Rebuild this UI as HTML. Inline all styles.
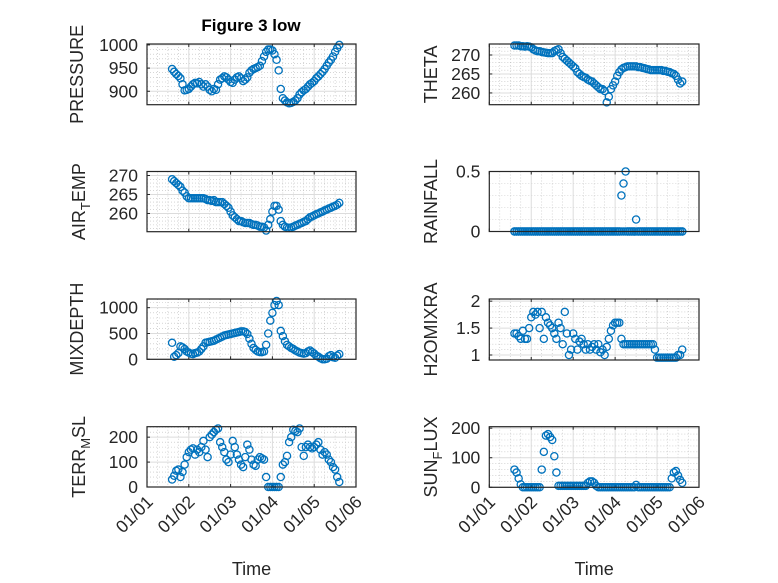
<!DOCTYPE html>
<html><head><meta charset="utf-8"><style>
html,body{margin:0;padding:0;background:#fff;}
svg{display:block;font-family:"Liberation Sans","DejaVu Sans",sans-serif;}
</style></head><body>
<svg id="fig" width="778" height="583" viewBox="0 0 778 583" xmlns="http://www.w3.org/2000/svg">
<rect width="778" height="583" fill="#fff"/>
<text x="251" y="31" text-anchor="middle" font-size="17" font-weight="bold" fill="#000">Figure 3 low</text>
</svg>
<script>
const times = [0.60,0.65,0.70,0.75,0.80,0.85,0.90,0.95,1.00,1.05,1.10,1.15,1.20,1.25,1.30,1.35,1.40,1.45,1.50,1.55,1.60,1.65,1.70,1.75,1.80,1.85,1.90,1.95,2.00,2.05,2.10,2.15,2.20,2.25,2.30,2.35,2.40,2.45,2.50,2.55,2.60,2.65,2.70,2.75,2.80,2.85,2.90,2.95,3.00,3.05,3.10,3.15,3.20,3.25,3.30,3.35,3.40,3.45,3.50,3.55,3.60,3.65,3.70,3.75,3.80,3.85,3.90,3.95,4.00,4.05,4.10,4.15,4.20,4.25,4.30,4.35,4.40,4.45,4.50,4.55,4.60];
const xTickLabels = ["01/01","01/02","01/03","01/04","01/05","01/06"];
const pressure = [948,942,937,933,928,915,902,903,905,910,915,918,917,920,915,910,915,910,903,900,905,903,915,925,928,932,930,925,920,918,925,930,932,928,922,925,930,940,945,948,950,952,955,965,975,985,990,990,988,980,968,945,905,885,880,876,874,875,877,880,885,893,898,902,905,910,915,918,922,928,932,937,942,948,955,962,968,975,985,993,1000];
const airTemp = [269,268.5,268,267.5,267,266,265.5,264.5,264,264,264,264,264,264,264,264,263.8,263.5,263.5,263.3,263.5,263,263,263,263,262.5,262,261.5,260.5,259.5,259,258.5,258,258,257.7,257.5,257.5,257.5,257.2,257,257,256.8,256.5,256.5,256.3,255.5,257,258.5,260.5,262,262,261,258,257,256.5,256.3,256.2,256.3,256.5,256.8,257,257.3,257.5,257.8,258,258.5,259,259.2,259.5,259.8,260,260.3,260.5,260.8,261,261.3,261.5,261.8,262,262.3,262.8];
const mixDepth = [320,50,80,120,250,230,200,150,130,110,100,120,130,150,200,250,320,330,340,350,360,380,400,420,440,460,470,480,490,500,510,520,530,540,540,530,490,400,300,220,180,150,140,140,150,280,500,750,900,1050,1130,1050,550,450,350,280,250,220,200,170,150,130,120,110,120,150,170,140,110,70,50,20,0,0,10,60,80,40,30,70,100];
const terrMsl = [30,45,65,70,40,60,90,120,140,150,155,130,150,140,160,185,150,120,200,210,220,230,235,180,160,140,110,100,130,185,160,130,110,90,80,120,170,150,110,90,85,110,120,115,110,40,0,0,0,0,0,0,40,90,100,125,180,200,230,225,220,235,160,125,160,170,160,155,160,170,180,150,130,140,130,110,100,80,70,40,20];
const theta = [272.5,272.5,272.5,272.3,272.3,272.2,272.3,272.2,272,271.5,271.2,271,271,270.8,270.7,270.6,270.5,270.5,270.5,271,271.3,271.5,270.5,269.5,269,268.5,268,267.5,267,266.5,265.5,265,264.5,264.2,264,263.5,263.2,263,262.5,262,261.5,261,261,260.5,257.5,259,261,262,263,264.5,265.5,266.2,266.6,266.8,267,267,267,267,267,266.8,266.8,266.6,266.5,266.3,266.2,266,266,266,266,266,266,265.8,265.8,265.6,265.5,265.2,265,264.5,263.5,262.5,263];
const rainfall = [0,0,0,0,0,0,0,0,0,0,0,0,0,0,0,0,0,0,0,0,0,0,0,0,0,0,0,0,0,0,0,0,0,0,0,0,0,0,0,0,0,0,0,0,0,0,0,0,0,0,0,0.3,0.4,0.5,0,0,0,0,0.1,0,0,0,0,0,0,0,0,0,0,0,0,0,0,0,0,0,0,0,0,0,0];
const rainZeros = [0,0,0,0,0,0,0,0,0,0,0,0,0,0,0,0,0,0,0,0,0,0,0,0,0,0,0,0,0,0,0,0,0,0,0,0,0,0,0,0,0,0,0,0,0,0,0,0,0,0,0,0,0,0,0,0,0,0,0,0,0,0,0,0,0,0,0,0,0,0,0,0,0,0,0,0,0,0,0,0,0];
const h2oMix = [1.4,1.4,1.35,1.3,1.45,1.3,1.3,1.5,1.7,1.8,1.75,1.8,1.5,1.8,1.3,1.7,1.6,1.55,1.5,1.4,1.3,1.6,1.5,1.2,1.8,1.4,1.0,1.1,1.4,1.3,1.1,1.25,1.3,1.2,1.1,1.2,1.1,1.15,1.2,1.1,1.2,1.05,1.1,1.0,1.15,1.3,1.45,1.55,1.6,1.6,1.6,1.3,1.2,1.2,1.2,1.2,1.2,1.2,1.2,1.2,1.2,1.2,1.2,1.2,1.2,1.2,1.2,1.1,0.95,0.95,0.95,0.95,0.95,0.95,0.95,0.95,0.95,0.95,1.0,1.0,1.1];
const sunFlux = [60,50,30,10,0,0,0,0,0,0,0,0,0,60,120,175,180,170,160,105,50,5,5,5,5,5,5,5,5,5,5,5,5,5,5,15,20,20,15,5,0,0,0,0,0,0,0,0,0,0,0,0,0,0,0,0,0,0,8,0,0,0,0,0,0,0,0,0,0,0,0,0,0,0,0,30,50,55,40,25,15];

const NS='http://www.w3.org/2000/svg';
const svg=document.getElementById('fig');
function el(tag,attrs,parent){const e=document.createElementNS(NS,tag);for(const k in attrs)e.setAttribute(k,attrs[k]);(parent||svg).appendChild(e);return e;}

const panels=[
 {name:'pressure',label:['PRESSURE'],data:pressure,x0:147,x1:356,y0:44,y1:104.7,ymin:871,ymax:1002,ticks:[900,950,1000],minor:10,labels:['900','950','1000'],lx:83,xlabels:false},
 {name:'theta',label:['THETA'],data:theta,x0:489.3,x1:699,y0:44,y1:104.7,ymin:256.9,ymax:272.9,ticks:[260,265,270],minor:1,labels:['260','265','270'],lx:437,xlabels:false},
 {name:'air-temp',label:['AIR','T','EMP'],data:airTemp,x0:147,x1:356,y0:171.5,y1:231.7,ymin:255.2,ymax:271.05,ticks:[260,265,270],minor:1,labels:['260','265','270'],lx:85,xlabels:false},
 {name:'rainfall',label:['RAINFALL'],data:rainfall,extra:rainZeros,x0:489.3,x1:699,y0:171.5,y1:231.5,ymin:0,ymax:0.5,ticks:[0,0.5],minor:0.1,labels:['0','0.5'],lx:437,xlabels:false},
 {name:'mixdepth',label:['MIXDEPTH'],data:mixDepth,x0:147,x1:356,y0:299,y1:359.3,ymin:0,ymax:1168,ticks:[0,500,1000],minor:100,labels:['0','500','1000'],lx:83,xlabels:false},
 {name:'h2omixra',label:['H2OMIXRA'],data:h2oMix,x0:489.3,x1:699,y0:299,y1:360,ymin:0.907,ymax:2.04,ticks:[1,1.5,2],minor:0.1,labels:['1','1.5','2'],lx:437,xlabels:false},
 {name:'terr-msl',label:['TERR','M','SL'],data:terrMsl,x0:147,x1:356,y0:426.7,y1:487,ymin:0,ymax:242,ticks:[0,100,200],minor:20,labels:['0','100','200'],lx:85,xlabels:true},
 {name:'sun-flux',label:['SUN','F','LUX'],data:sunFlux,x0:489.3,x1:699,y0:426.7,y1:487.3,ymin:0,ymax:205,ticks:[0,100,200],minor:20,labels:['0','100','200'],lx:437,xlabels:true}
];

panels.forEach(p=>{
 const g=el('g',{});
 
 
 const sx=t=>p.x0+(t/5)*(p.x1-p.x0);
 const sy=v=>p.y1-(v-p.ymin)/(p.ymax-p.ymin)*(p.y1-p.y0);
 for(let d=0.25;d<5;d+=0.25){ if(Math.abs(d-Math.round(d))<1e-6)continue;
  const gl=el('line',{x1:sx(d),x2:sx(d),y1:p.y0,y2:p.y1,stroke:'#bdbdbd','stroke-width':0.6,'stroke-dasharray':'1,2'},g);
  
  }
 const start=Math.ceil(p.ymin/p.minor)*p.minor;
 for(let v=start;v<=p.ymax+1e-9;v+=p.minor){
  if(p.ticks.some(t=>Math.abs(t-v)<1e-6))continue;
  const gl=el('line',{x1:p.x0,x2:p.x1,y1:sy(v),y2:sy(v),stroke:'#bdbdbd','stroke-width':0.6,'stroke-dasharray':'1,2'},g);
  
  }
 for(let d=1;d<5;d++){
  const gl=el('line',{x1:sx(d),x2:sx(d),y1:p.y0,y2:p.y1,stroke:'#dcdcdc','stroke-width':1},g);
  
  }
 p.ticks.forEach((v,i)=>{
  const gl=el('line',{x1:p.x0,x2:p.x1,y1:sy(v),y2:sy(v),stroke:'#dcdcdc','stroke-width':1},g);
  
  
  const tk=el('line',{x1:p.x0,x2:p.x0+3,y1:sy(v),y2:sy(v),stroke:'#262626','stroke-width':1},g);
  
  
  const tl=el('text',{x:p.x0-9,y:sy(v)+6,'text-anchor':'end','font-size':17.5,fill:'#262626'},g);
  tl.textContent=p.labels[i];
  
  
 });
 for(let d=0;d<=5;d++){
  const tk=el('line',{x1:sx(d),x2:sx(d),y1:p.y1,y2:p.y1-3,stroke:'#262626','stroke-width':1},g);
  
  
  const tk2=el('line',{x1:sx(d),x2:sx(d),y1:p.y0,y2:p.y0+3,stroke:'#262626','stroke-width':1},g);
  
  
  if(p.xlabels){
   const ax=sx(d)+7, ay=p.y1+16;
   const tl=el('text',{x:ax,y:ay,'text-anchor':'end','font-size':17.5,fill:'#262626',transform:'rotate(-45 '+ax+' '+ay+')'},g);
   tl.textContent=xTickLabels[d];
   
   
  }
 }
 const series=[p.data];
 if(p.extra)series.push(p.extra);
 series.forEach(arr=>{
  const n=Math.min(arr.length,times.length);
  for(let i=0;i<n;i++){
   const c=el('circle',{cx:sx(times[i]),cy:sy(arr[i]),r:3.6,fill:'none',stroke:'#0072BD','stroke-width':1.3},g);
   
   
  }
 });
 const box=el('rect',{x:p.x0,y:p.y0,width:p.x1-p.x0,height:p.y1-p.y0,fill:'none',stroke:'#262626','stroke-width':1.2},g);
 
 
 const cy=(p.y0+p.y1)/2;
 const yl=el('text',{x:p.lx,y:cy,'text-anchor':'middle','font-size':18,fill:'#262626',transform:'rotate(-90 '+p.lx+' '+cy+')'},g);
 
 
 if(p.label.length===1){yl.textContent=p.label[0];}
 else{
  const a=el('tspan',{},yl);a.textContent=p.label[0];
  const b=el('tspan',{dy:5,'font-size':13},yl);b.textContent=p.label[1];
  const c=el('tspan',{dy:-5},yl);c.textContent=p.label[2];
 }
 if(p.xlabels){
  const xl=el('text',{x:(p.x0+p.x1)/2,y:575,'text-anchor':'middle','font-size':18,fill:'#262626'},g);
  xl.textContent='Time';
  
  
 }
});
</script>
</body></html>
